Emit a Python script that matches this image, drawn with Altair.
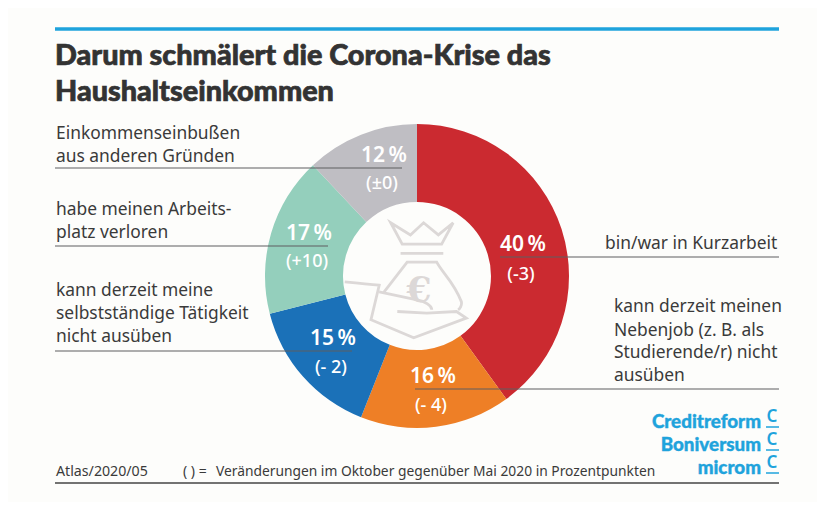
import altair as alt
import pandas as pd

# ---- data ----
categories = ["bin/war in Kurzarbeit", "Nebenjob", "selbstständig", "Arbeitsplatz verloren", "andere Gründe"]
shares = [40, 16, 15, 17, 12]
changes = ["(-3)", "(- 4)", "(- 2)", "(+10)", "(±0)"]
colors = ["#cb2a30", "#ee7f26", "#1b71b8", "#94cfbc", "#bfbec3"]
title_lines = ["Darum schmälert die Corona-Krise das", "Haushaltseinkommen"]
left_top = ["Einkommenseinbußen", "aus anderen Gründen"]
left_mid = ["habe meinen Arbeits-", "platz verloren"]
left_low = ["kann derzeit meine", "selbstständige Tätigkeit", "nicht ausüben"]
right_top = ["bin/war in Kurzarbeit"]
right_low = ["kann derzeit meinen", "Nebenjob (z. B. als", "Studierende/r) nicht", "ausüben"]
logos = ["Creditreform", "Boniversum", "microm"]
footer_left = "Atlas/2020/05"
footer_right = "Veränderungen im Oktober gegenüber Mai 2020 in Prozentpunkten"

W, H = 809, 494
OFF = 8
INK = "#3a3a3a"
LINE = "#5f5f60"
BLUE = "#1fa3dc"
ICON = "#dcd8d7"
BODY = "Noto Sans"


def txt(s, x, y, size=17.4, color=INK, weight=400, align="left", font=BODY, halo=0):
    props = dict(font=font, fontSize=size, fontWeight=weight, align=align, baseline="alphabetic", color=color)
    if halo:
        props.update(stroke=color, strokeWidth=halo)
    return alt.Chart(alt.Data(values=[{"t": s}])).mark_text(**props).encode(
        text="t:N", x=alt.value(x - OFF), y=alt.value(y - OFF)
    )


def rule(x1, x2, y, color=LINE, width=1.2):
    return alt.Chart(alt.Data(values=[{"a": 1}])).mark_rule(color=color, strokeWidth=width).encode(
        x=alt.value(x1 - OFF), x2=alt.value(x2 - OFF), y=alt.value(y - OFF)
    )


df = pd.DataFrame({"cat": categories, "share": shares, "idx": range(5)})
ring = alt.Chart(df).mark_arc(outerRadius=152, innerRadius=74).encode(
    theta=alt.Theta("share:Q", stack=True),
    color=alt.Color("cat:N", scale=alt.Scale(domain=categories, range=colors), legend=None),
    order=alt.Order("idx:Q"),
    x=alt.value(417 - OFF),
    y=alt.value(276 - OFF),
)

icon_path = (
    "M-.32,-.648L-.18,-.388L.3,-.388L.44,-.648L.26,-.5L.08,-.648L-.08,-.5Z"
    "M-.2,-.276L.32,-.276"
    "M-.4,.192L-.12,-.168L.24,-.168C.32,-.02,.44,.06,.54,.312C.55,.36,.52,.4,.5,.412"
    "M-.88,.072C-.68,.092,-.6,.1,-.46,.112L-.56,.532L-.04,.752L.6,.512L.48,.432L.12,.452L-.24,.432"
    "M-.46,.192L0,.292C.1,.31,.18,.36,.18,.41"
)
icon = alt.Chart(alt.Data(values=[{"a": 1}])).mark_point(
    shape=icon_path, filled=False, color=ICON, strokeWidth=2.8, opacity=1, size=27000
).encode(x=alt.value(417 - OFF), y=alt.value(276 - OFF))

layers = [ring, icon, txt("€", 419, 302, 36, ICON, 700, "center", "DejaVu Serif")]

# top and bottom rules
layers += [rule(55, 779, 29, BLUE, 3.6), rule(55, 779, 483, "#444444", 1.6)]

# title
layers += [txt(title_lines[0], 55, 65, 28.8, "#333333", 900, font="Lato", halo=0.7),
           txt(title_lines[1], 55, 101, 28.8, "#333333", 900, font="Lato", halo=0.7)]

# side labels
for lines, x, ys in [
    (left_top, 56, [139, 162]),
    (left_mid, 56, [215, 238]),
    (left_low, 56, [296, 319, 342]),
    (right_top, 605, [249]),
    (right_low, 614, [312, 336, 358, 381]),
]:
    layers += [txt(s, x, y) for s, y in zip(lines, ys)]

# slice values
value_pos = [(523, 251), (433, 383), (333, 345), (309, 240), (384, 162)]
change_pos = [(521, 280), (431, 411), (331, 373), (307, 267), (382, 189)]
for v, c, p, q in zip(shares, changes, value_pos, change_pos):
    layers.append(txt(f"{v}\u202f%", p[0], p[1], 21, "white", 600, "center"))
    layers.append(txt(c, q[0], q[1], 18, "white", 500, "center"))

# leader lines
layers += [rule(55, 402, 168), rule(55, 328, 246), rule(55, 352, 351), rule(500, 779, 257), rule(415, 779, 389)]

# footer
layers += [txt(footer_left, 56, 476, 14.2), txt("( ) =", 183, 476, 14), txt(footer_right, 216, 476, 13.8)]

# logos
for s, y in zip(logos, [428, 451, 474]):
    layers.append(txt(s, 761, y, 18.8, BLUE, 900, "right", "Lato", halo=0.4))
    layers.append(txt("C", 772, y - 6, 17, BLUE, 600, "center"))
    layers.append(rule(766, 779, y - 1, BLUE, 1.5))

chart = alt.layer(*layers).properties(
    width=W, height=H, padding=0, autosize=alt.AutoSizeParams(type="none"), background="#fdfdfb"
).configure_view(stroke=None)

chart.save("out.html", embed_options={"renderer": "svg", "actions": False})
